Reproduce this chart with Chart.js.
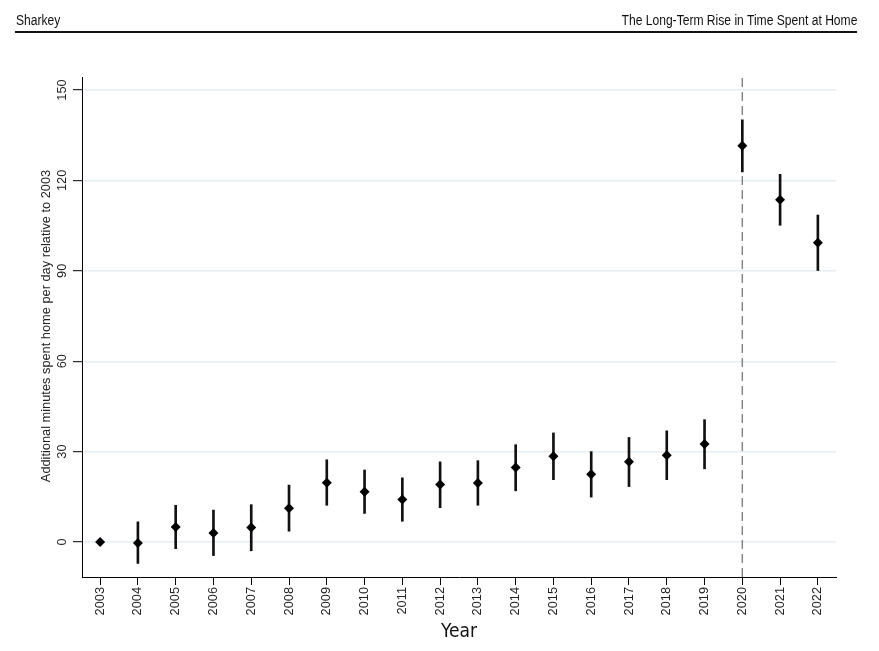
<!DOCTYPE html>
<html>
<head>
<meta charset="utf-8">
<script src="https://cdn.jsdelivr.net/npm/chart.js@4/dist/chart.umd.min.js"></script>
<style>
  html, body { margin: 0; padding: 0; background: #fff; }
  #wrap { position: relative; width: 879px; height: 651px; overflow: hidden; }
  #c { position: absolute; left: 0; top: 0; }
  .hdr { position: absolute; top: 10px; font-family: "Liberation Sans", Arial, sans-serif; font-size: 15.5px; color: #111; line-height: 20px; white-space: nowrap; transform: scaleX(0.78); }
  #hl { left: 16px; transform-origin: left center; }
  #hr { right: 22px; transform-origin: right center; }
  #rule { position: absolute; left: 15px; top: 31px; width: 842px; height: 2px; background: #111; }
</style>
</head>
<body>
<div id="wrap">
  <canvas id="c" width="879" height="651"></canvas>
  <div class="hdr" id="hl">Sharkey</div>
  <div class="hdr" id="hr">The Long-Term Rise in Time Spent at Home</div>
  <div id="rule"></div>
</div>
<script>
// ---- data ----
const years = [2003, 2004, 2005, 2006, 2007, 2008, 2009, 2010, 2011, 2012,
               2013, 2014, 2015, 2016, 2017, 2018, 2019, 2020, 2021, 2022];
const estimate = [0, -0.3, 5.0, 3.0, 4.8, 11.2, 19.7, 16.7, 14.1, 19.1,
                  19.6, 24.7, 28.5, 22.5, 26.6, 28.8, 32.5, 131.5, 113.6, 99.3];
const ciLower = [0, -7.1, -2.2, -4.5, -2.9, 3.6, 12.2, 9.5, 6.9, 11.4,
                 12.2, 17.0, 20.7, 14.9, 18.4, 20.7, 24.3, 122.8, 105.1, 90.1];
const ciUpper = [0, 6.7, 12.2, 10.6, 12.4, 18.9, 27.3, 23.9, 21.3, 26.6,
                 27.0, 32.3, 36.2, 30.0, 34.7, 36.9, 40.6, 140.1, 122.0, 108.5];
const yTicks = [0, 30, 60, 90, 120, 150];
const xTicks = years;
const refYear = 2020;
const yTitle = "Additional minutes spent home per day relative to 2003";
const xTitle = "Year";

const Y_MIN = -11.6, Y_MAX = 154.3;
const X_MIN = 2002.52, X_MAX = 2022.48;
const tickFont = '12.8px "Liberation Sans", Arial, sans-serif';

const yLabelsPlugin = {
  id: 'yLabels',
  afterDraw(chart) {
    const ctx = chart.ctx;
    const ys = chart.scales.y;
    ctx.save();
    ctx.fillStyle = '#222';
    ctx.font = tickFont;
    ctx.textAlign = 'center';
    ctx.textBaseline = 'alphabetic';
    yTicks.forEach(v => {
      const py = ys.getPixelForValue(v);
      ctx.save();
      ctx.translate(65.5, py);
      ctx.rotate(-Math.PI / 2);
      ctx.fillText(String(v), 0, 0);
      ctx.restore();
    });
    const midY = (chart.chartArea.top + chart.chartArea.bottom) / 2;
    ctx.save();
    ctx.translate(49.5, midY - 1);
    ctx.rotate(-Math.PI / 2);
    ctx.fillText(yTitle, 0, 0);
    ctx.restore();
    ctx.restore();
  }
};

new Chart(document.getElementById('c'), {
  type: 'scatter',
  data: {
    datasets: [
      {
        type: 'scatter',
        label: 'estimate',
        data: years.map((y, i) => ({ x: y, y: estimate[i] })),
        pointStyle: 'rectRot',
        pointRadius: 5,
        pointBorderWidth: 0,
        backgroundColor: '#000',
        borderColor: '#000',
        order: 1
      },
      {
        type: 'bar',
        label: 'ci',
        data: years.map((y, i) => ({ x: y, y: [ciLower[i], ciUpper[i]] })),
        backgroundColor: '#111',
        borderWidth: 0,
        barThickness: 2,
        order: 2
      },
      {
        type: 'line',
        label: 'ref',
        data: [{ x: refYear, y: Y_MIN }, { x: refYear, y: Y_MAX }],
        borderColor: '#808080',
        borderWidth: 1.4,
        borderDash: [9, 5],
        pointRadius: 0,
        fill: false,
        order: 3
      }
    ]
  },
  options: {
    responsive: false,
    animation: false,
    devicePixelRatio: 1,
    layout: { padding: { left: 73, right: 43, top: 77, bottom: 0 } },
    plugins: { legend: { display: false }, tooltip: { enabled: false }, title: { display: false } },
    scales: {
      x: {
        type: 'linear',
        min: X_MIN, max: X_MAX,
        offset: false,
        afterBuildTicks: s => { s.ticks = xTicks.map(v => ({ value: v })); },
        afterFit: s => { s.height = 74; },
        grid: { display: true, offset: false, drawOnChartArea: false, drawTicks: true, tickLength: 8, tickColor: '#000', tickWidth: 1 },
        border: { display: true, color: '#000', width: 1 },
        ticks: {
          autoSkip: false, minRotation: 90, maxRotation: 90, padding: 2,
          color: '#222',
          font: { family: '"Liberation Sans", Arial, sans-serif', size: 12.8 },
          callback: v => String(v)
        },
        title: {
          display: true, text: xTitle, color: '#111',
          font: { family: '"Liberation Sans Narrow", "DejaVu Sans Condensed", sans-serif', size: 19 },
          padding: { top: 0, bottom: 8 }
        }
      },
      y: {
        type: 'linear',
        min: Y_MIN, max: Y_MAX,
        afterBuildTicks: s => { s.ticks = yTicks.map(v => ({ value: v })); },
        afterFit: s => { s.width = 9; },
        grid: { display: true, offset: false, drawOnChartArea: true, drawTicks: true, tickLength: 9, color: '#e6eef1', lineWidth: 1.4, tickColor: '#000', tickWidth: 1 },
        border: { display: true, color: '#000', width: 1 },
        ticks: { display: false }
      }
    }
  },
  plugins: [yLabelsPlugin]
});
</script>
</body>
</html>
